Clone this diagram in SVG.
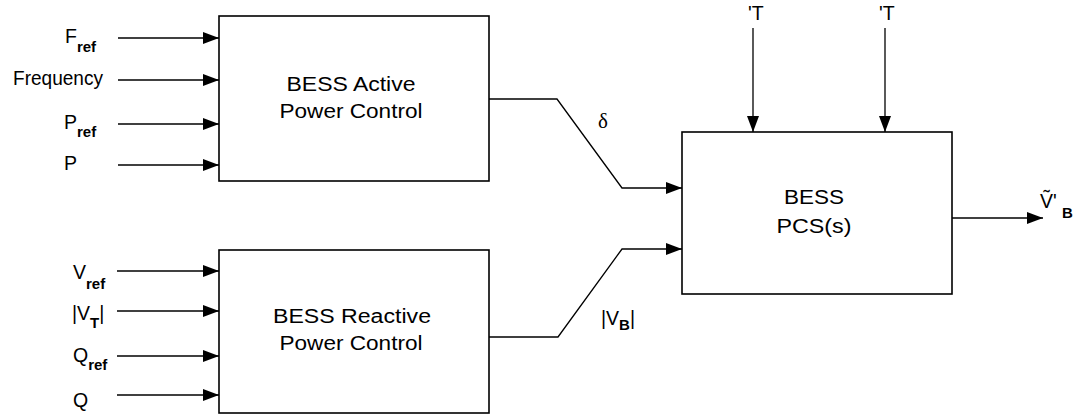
<svg xmlns="http://www.w3.org/2000/svg" width="1082" height="416" viewBox="0 0 1082 416">
<style>
.box{fill:#fff;stroke:#000;stroke-width:1.6}
.ln{fill:none;stroke:#000;stroke-width:1.3}
.t{font-family:"Liberation Sans",Arial,sans-serif;font-size:19.5px;fill:#000}
.s{font-size:15px;font-weight:bold}
.c{text-anchor:middle}
</style>
<defs>
<marker id="ah" markerUnits="userSpaceOnUse" markerWidth="16" markerHeight="12" refX="16" refY="6" orient="auto">
<path d="M0,0 L16,6 L0,12 z" fill="#000"/>
</marker>
</defs>
<g id="connectors">
<line class="ln" x1="118" y1="38" x2="219" y2="38" marker-end="url(#ah)"/>
<line class="ln" x1="118" y1="80" x2="219" y2="80" marker-end="url(#ah)"/>
<line class="ln" x1="118" y1="124" x2="219" y2="124" marker-end="url(#ah)"/>
<line class="ln" x1="118" y1="165" x2="219" y2="165" marker-end="url(#ah)"/>
<line class="ln" x1="117" y1="271" x2="219" y2="271" marker-end="url(#ah)"/>
<line class="ln" x1="117" y1="311" x2="219" y2="311" marker-end="url(#ah)"/>
<line class="ln" x1="117" y1="356" x2="219" y2="356" marker-end="url(#ah)"/>
<line class="ln" x1="117" y1="395" x2="219" y2="395" marker-end="url(#ah)"/>
<polyline class="ln" points="489,99 557,99 622,188 682,188" marker-end="url(#ah)"/>
<polyline class="ln" points="489,337 558,337 622,249 682,249" marker-end="url(#ah)"/>
<line class="ln" x1="753" y1="28" x2="753" y2="132" marker-end="url(#ah)"/>
<line class="ln" x1="885" y1="28" x2="885" y2="132" marker-end="url(#ah)"/>
<line class="ln" x1="952" y1="218" x2="1043" y2="218" marker-end="url(#ah)"/>
<text class="t" x="598" y="128" style="font-family:'Liberation Serif',serif;font-size:21px">δ</text>
<text class="t" x="601" y="325">|V<tspan class="s" dy="5">B</tspan><tspan dy="-5">|</tspan></text>
<text class="t" x="1040" y="208">Ṽ'<tspan class="s" x="1062" dy="10">B</tspan></text>
<text class="t" x="748" y="20">'T</text>
<text class="t" x="879" y="20">'T</text>
</g>
<g id="labels">
<text class="t" x="65" y="43">F<tspan class="s" dy="9">ref</tspan></text>
<text class="t" x="13" y="85" textLength="90" lengthAdjust="spacingAndGlyphs">Frequency</text>
<text class="t" x="64" y="129">P<tspan class="s" dy="8">ref</tspan></text>
<text class="t" x="64" y="170">P</text>
<text class="t" x="73" y="279">V<tspan class="s" dy="10">ref</tspan></text>
<text class="t" x="72" y="320">|V<tspan class="s" dy="8">T</tspan><tspan dy="-8">|</tspan></text>
<text class="t" x="73" y="362">Q<tspan class="s" dy="8">ref</tspan></text>
<text class="t" x="73" y="407">Q</text>
</g>
<g id="active">
<rect class="box" x="219" y="16" width="270" height="165"/>
<text class="t c" x="351" y="91" textLength="129" lengthAdjust="spacingAndGlyphs">BESS Active</text>
<text class="t c" x="351" y="118" textLength="143" lengthAdjust="spacingAndGlyphs">Power Control</text>
</g>
<g id="reactive">
<rect class="box" x="219" y="250" width="270" height="163"/>
<text class="t c" x="352" y="323" textLength="158" lengthAdjust="spacingAndGlyphs">BESS Reactive</text>
<text class="t c" x="351" y="350" textLength="143" lengthAdjust="spacingAndGlyphs">Power Control</text>
</g>
<g id="pcs">
<rect class="box" x="682" y="132" width="270" height="162"/>
<text class="t c" x="814" y="204" textLength="60" lengthAdjust="spacingAndGlyphs">BESS</text>
<text class="t c" x="814" y="233" textLength="75" lengthAdjust="spacingAndGlyphs">PCS(s)</text>
</g>
</svg>
